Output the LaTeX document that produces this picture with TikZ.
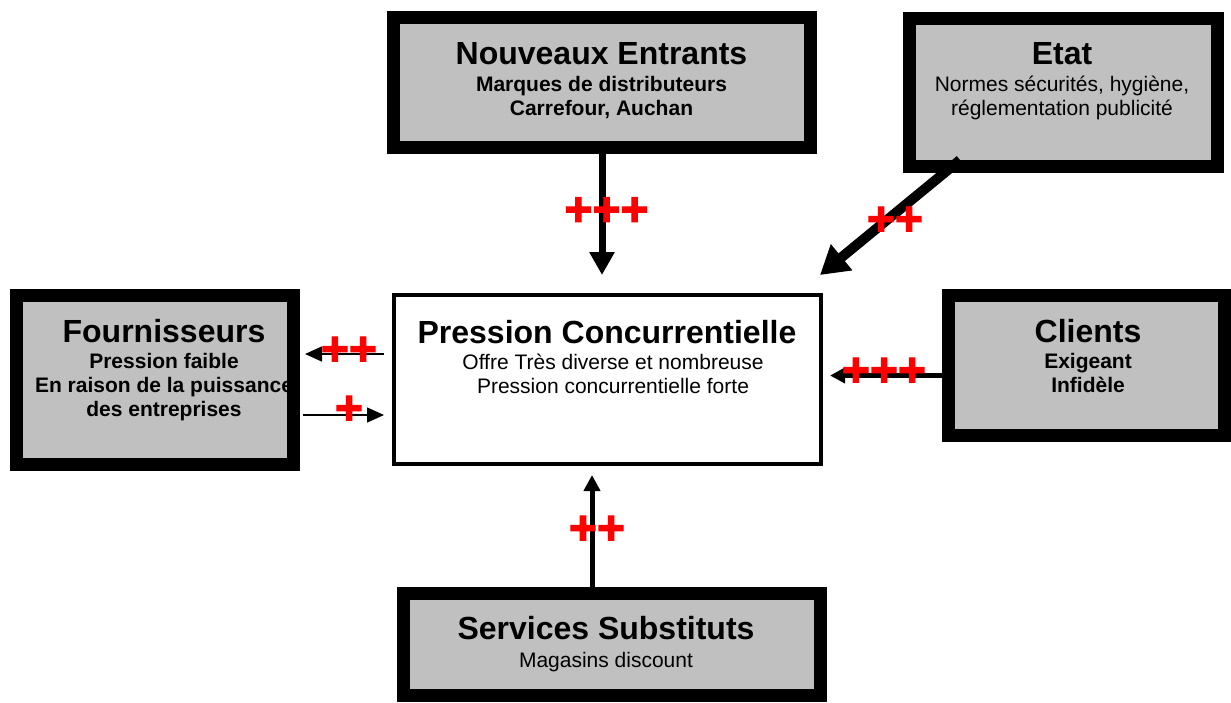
\documentclass[tikz,border=0pt]{standalone}
\usepackage{fontspec}
\setmainfont{Liberation Sans}
\newfontfamily\plusfont[FakeBold=2.5]{Liberation Sans Bold}
\usetikzlibrary{arrows.meta,positioning}
\definecolor{boxgray}{HTML}{C0C0C0}
\newcommand{\ttl}{\fontsize{32}{36}\selectfont\bfseries}

\begin{document}
\begin{tikzpicture}[x=1pt,y=-1pt,
  force/.style={draw=black, line width=13pt, fill=boxgray, inner sep=0pt},
  txt/.style={align=center, anchor=north, inner sep=0pt, font=\fontsize{21}{24}\selectfont},
  plus/.style={text=red, font=\fontsize{48}{48}\plusfont, inner sep=0pt},
  big/.style={line width=7pt, -{Triangle[width=24pt,length=23pt]}},
  thin/.style={line width=1.5pt, -{Triangle[width=15pt,length=17pt]}}]
\useasboundingbox (0,0) rectangle (1231,702);

% the five forces
\node[force, minimum width=417pt, minimum height=130pt] (entrants) at (602,82.5) {};
\node[force, minimum width=308pt, minimum height=148pt] (etat) at (1063.5,92.5) {};
\node[force, minimum width=277pt, minimum height=169pt] (fourn) at (155,380) {};
\node[force, minimum width=276pt, minimum height=140pt] (clients) at (1086.5,365.5) {};
\node[force, minimum width=417pt, minimum height=102pt] (subst) at (612,644.5) {};
\node[draw, line width=4pt, minimum width=427pt, minimum height=169pt] (press) at (607.5,379.5) {};

% texts
\node[txt, font=\fontsize{21}{24}\selectfont\bfseries] (entrantsTxt) at (601.5,42) {{\ttl Nouveaux Entrants}\\[3pt]Marques de distributeurs\\Carrefour, Auchan};
\node[txt] (etatTxt) at (1062,42) {{\ttl Etat}\\[3pt]Normes sécurités, hygiène,\\ réglementation publicité};
\node[txt, font=\fontsize{21}{24}\selectfont\bfseries] (fournTxt) at (164,319) {{\ttl Fournisseurs}\\[2pt]Pression faible\\En raison de la puissance\\des entreprises};
\node[txt, font=\fontsize{21}{24}\selectfont\bfseries] (clientsTxt) at (1088,319) {{\ttl Clients}\\[2pt]Exigeant\\Infidèle};
\node[txt] (substTxt) at (606,616) {{\ttl Services Substituts}\\[4pt]Magasins discount};
\node[txt] (pressTxt) at (607,320) {{\ttl Pression Concurrentielle}\\[2pt]\hspace*{12pt}Offre Très diverse et nombreuse\\\hspace*{12pt}Pression concurrentielle forte};

% arrows
\coordinate (tipNE) at (602,275);
\coordinate (tipEt) at (820,275);
\coordinate (tipCl) at (830,375.5);
\coordinate (tipSu) at (592,475);
\draw[big] (entrants.south) -- (tipNE);
\draw[line width=10pt, -{Triangle[width=32pt,length=28pt]}] ([xshift=57pt,yshift=13pt]etat.south west) -- (tipEt);
\draw[line width=5pt, -{Triangle[width=15pt,length=15pt]}] ([yshift=-10pt]clients.west) -- (tipCl);
\draw[line width=5pt, -{Triangle[width=16pt,length=16pt]}] ([xshift=-20pt]subst.north) -- (tipSu);
\draw[thin] ([xshift=-8pt,yshift=25.5pt]press.west) -- ([xshift=5pt,yshift=26pt]fourn.east);
\draw[thin] ([xshift=3pt,yshift=-35pt]fourn.east) -- ([xshift=-8pt,yshift=-35.5pt]press.west);

% pluses
\node[plus] (pNE) at (606.5,211.5) {+++};
\node[plus] (pEt) at (895,221) {++};
\node[plus] (pFo1) at (349,351) {++};
\node[plus] (pFo2) at (349,410) {+};
\node[plus] (pCl) at (884,372) {+++};
\node[plus] (pSu) at (597,530) {++};
\end{tikzpicture}
\end{document}
